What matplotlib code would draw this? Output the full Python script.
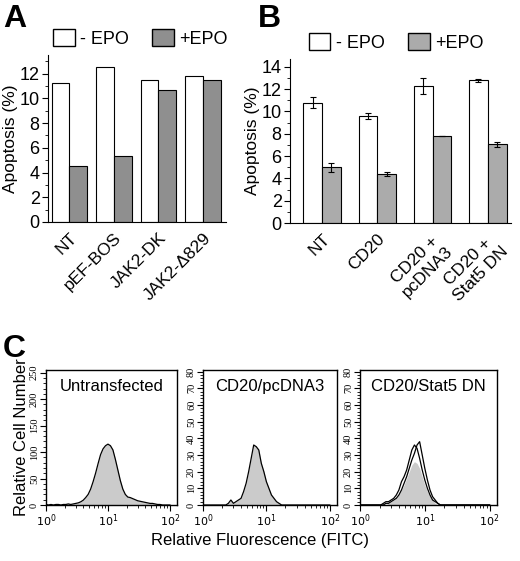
import numpy as np
import matplotlib
matplotlib.use('Agg')
import matplotlib.pyplot as plt
from matplotlib.patches import Patch
from matplotlib.ticker import MultipleLocator, LogLocator, NullFormatter

plt.rcParams['font.family'] = ['Liberation Sans', 'DejaVu Sans']

# ---- panel A data
a_groups = ['NT', 'pEF-BOS', 'JAK2-DK', 'JAK2-\u0394829']
a_minus = [11.2, 12.5, 11.5, 11.8]
a_plus = [4.5, 5.3, 10.7, 11.5]

# ---- panel B data
b_groups = ['NT', 'CD20', 'CD20 +\npcDNA3', 'CD20 +\nStat5 DN']
b_minus = [10.8, 9.6, 12.3, 12.8]
b_minus_err = [0.45, 0.3, 0.7, 0.15]
b_plus = [5.0, 4.4, 7.8, 7.05]
b_plus_err = [0.4, 0.15, 0.0, 0.2]

# ---- panel C data (log10 fluorescence channel, counts)
log_fl = np.linspace(0, 2, 51)
untransfected = [1, 0, 1, 0, 1, 1, 0, 1, 1, 2, 1, 2, 3,
                 4, 6, 9, 14, 20, 30, 44, 60, 78, 95, 106, 112, 115, 112,
                 104, 86, 66, 46, 30, 20, 15, 14, 12, 10, 8, 7, 6, 5, 4,
                 3, 3, 2, 1, 1, 0, 0, 0, 0]
pcdna3 = [0, 0, 0, 0, 0, 0, 0, 0, 0, 0,
          1, 3, 1, 2, 3, 4, 8, 13, 20, 28, 36, 35, 33, 25, 20, 14, 10,
          6, 4, 2, 1,
          0, 0, 0, 0, 0, 0, 0, 0, 0, 0, 0, 0, 0, 0, 0, 0, 0, 0, 0, 0]
stat5_fill = [0, 0, 0, 0, 0, 0, 0, 0, 0, 0, 0,
              1, 2, 3, 4, 6, 9, 12, 16, 20, 24, 26, 25, 22, 17, 12, 8, 5,
              3, 1,
              0, 0, 0, 0, 0, 0, 0, 0, 0, 0, 0, 0, 0, 0, 0, 0, 0, 0, 0, 0, 0]
stat5_line1 = [0, 0, 0, 0, 0, 0, 0, 0, 0,
               1, 2, 2, 3, 4, 6, 9, 14, 17, 21, 27, 33, 36, 34, 28, 21, 15,
               10, 6, 3, 2, 1,
               0, 0, 0, 0, 0, 0, 0, 0, 0, 0, 0, 0, 0, 0, 0, 0, 0, 0, 0, 0]
stat5_line2 = [0, 0, 0, 0, 0, 0, 0, 0, 0, 0,
               1, 1, 2, 3, 4, 6, 9, 13, 17, 22, 27, 31, 36, 38, 30, 22, 15,
               9, 5, 3, 1,
               0, 0, 0, 0, 0, 0, 0, 0, 0, 0, 0, 0, 0, 0, 0, 0, 0, 0, 0, 0]

fig = plt.figure(figsize=(5.2, 5.61), dpi=100)
W, H = 520.0, 561.0


def box(l, r, t, b):
    return [l / W, 1 - b / H, (r - l) / W, (b - t) / H]


def bar_panel(ax, groups, minus, plus, gray, width, xlim, ylim, ystep,
              minus_err=None, plus_err=None, leg_x=0.5):
    x = np.arange(len(groups))
    ekw = dict(ecolor='black', capsize=2, elinewidth=0.8, capthick=0.8)
    ax.bar(x - width / 2, minus, width, color='white', edgecolor='black',
           linewidth=0.8, yerr=minus_err, error_kw=ekw)
    ax.bar(x + width / 2, plus, width, color=gray, edgecolor='black',
           linewidth=0.8, yerr=plus_err, error_kw=ekw)
    ax.set_xlim(*xlim)
    ax.set_ylim(*ylim)
    ax.spines['top'].set_visible(False)
    ax.spines['right'].set_visible(False)
    ax.yaxis.set_major_locator(MultipleLocator(ystep))
    ax.yaxis.set_minor_locator(MultipleLocator(ystep / 2))
    ax.tick_params(axis='y', labelsize=13, length=4, width=0.8, pad=2)
    ax.tick_params(axis='y', which='minor', length=2)
    ax.set_xticks(x)
    ax.set_xticklabels(groups, rotation=45, ha='right', rotation_mode='anchor',
                       fontsize=12.5, ma='center')
    ax.tick_params(axis='x', length=0, pad=6)
    ax.set_ylabel('Apoptosis (%)', fontsize=12.5, labelpad=1)
    handles = [Patch(facecolor='white', edgecolor='black', label='- EPO'),
               Patch(facecolor=gray, edgecolor='black', label='+EPO')]
    ax.legend(handles=handles, loc='lower center',
              bbox_to_anchor=(leg_x, 1.0), ncol=2, frameon=False,
              fontsize=13, handlelength=1.2, handleheight=1.1,
              columnspacing=1.3, handletextpad=0.3, borderaxespad=0)


axA = fig.add_axes(box(48, 226, 55, 222))
bar_panel(axA, a_groups, a_minus, a_plus, '#8f8f8f', 0.4,
          (-0.48, 3.52), (0, 13.5), 2, leg_x=0.52)

axB = fig.add_axes(box(290, 511, 59, 223))
bar_panel(axB, b_groups, b_minus, b_plus, '#ababab', 0.34,
          (-0.58, 3.42), (0, 14.7), 2, b_minus_err, b_plus_err, leg_x=0.48)

fig.text(3 / W, 1 - 27 / H, 'A', fontsize=23, fontweight='bold')
fig.text(258 / W, 1 - 27 / H, 'B', fontsize=23, fontweight='bold')
fig.text(3 / W, 1 - 357 / H, 'C', fontsize=23, fontweight='bold')


def hist_panel(ax, title, ymax, ystep):
    ax.set_xscale('log')
    ax.set_xlim(1, 130)
    ax.set_ylim(0, ymax)
    ax.set_xticks([1, 10, 100])
    ax.set_xticklabels(['$10^0$', '$10^1$', '$10^2$'])
    ax.xaxis.set_minor_locator(LogLocator(base=10, subs=np.arange(2, 10)))
    ax.xaxis.set_minor_formatter(NullFormatter())
    ax.yaxis.set_major_locator(MultipleLocator(ystep))
    ax.yaxis.set_minor_locator(MultipleLocator(ystep / 5))
    ax.tick_params(axis='x', labelsize=8, length=4, width=0.8, pad=1)
    ax.tick_params(axis='x', which='minor', length=2)
    ax.tick_params(axis='y', labelsize=7.5, length=4, width=0.8, pad=1,
                   labelrotation=90)
    ax.tick_params(axis='y', which='minor', length=2)
    for lab in ax.get_yticklabels():
        lab.set_va('center')
        lab.set_family('Liberation Serif')
    for s in ax.spines.values():
        s.set_linewidth(1.0)
    ax.text(0.5, 0.88, title, transform=ax.transAxes, ha='center',
            va='center', fontsize=12)


fl = 10 ** log_fl
fill_gray = '#cbcbcb'

ax1 = fig.add_axes(box(46, 177, 370, 505))
ax1.fill_between(fl, untransfected, color=fill_gray, lw=0)
ax1.plot(fl, untransfected, color='black', lw=0.9)
hist_panel(ax1, 'Untransfected', 255, 50)
ax1.set_ylabel('Relative Cell Number', fontsize=12, labelpad=1)

ax2 = fig.add_axes(box(203, 337, 370, 505))
ax2.fill_between(fl, pcdna3, color=fill_gray, lw=0)
ax2.plot(fl, pcdna3, color='black', lw=0.9)
hist_panel(ax2, 'CD20/pcDNA3', 81, 10)

ax3 = fig.add_axes(box(360, 497, 370, 505))
ax3.fill_between(fl, stat5_fill, color=fill_gray, lw=0)
ax3.plot(fl, stat5_line1, color='black', lw=0.9)
ax3.plot(fl, stat5_line2, color='black', lw=0.9)
hist_panel(ax3, 'CD20/Stat5 DN', 81, 10)

fig.text(0.5, 1 - 541 / H, 'Relative Fluorescence (FITC)', ha='center',
         va='center', fontsize=12)

fig.savefig('out.png', dpi=100)
